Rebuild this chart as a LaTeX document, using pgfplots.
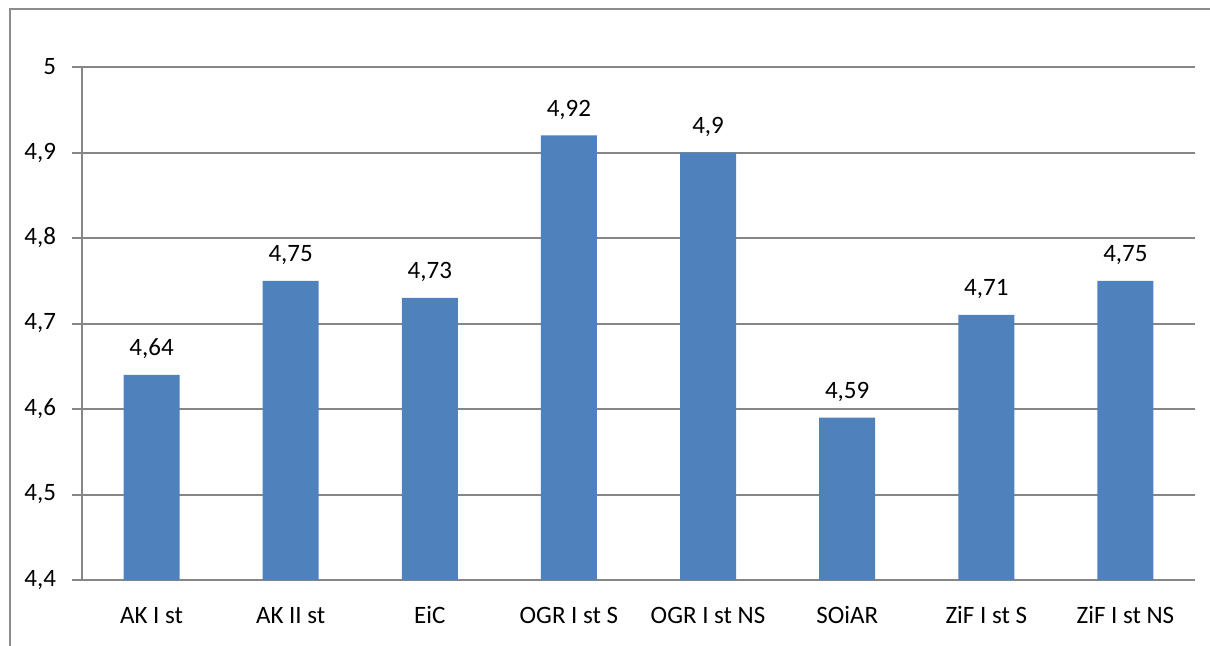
\documentclass[border=0pt]{standalone}
\usepackage{pgfplots}
\pgfplotsset{compat=1.18}
\usepackage{fontspec}
\setmainfont{Carlito}
\definecolor{barblue}{HTML}{4F81BD}
\definecolor{gridgray}{HTML}{868686}
\definecolor{framegray}{HTML}{8C8C8C}
\begin{document}
\begin{tikzpicture}[x=0.5pt,y=0.5pt]
\path[use as bounding box] (0,0) rectangle (1210,645);
\draw[framegray,line width=1.1pt] (10,-5) -- (10,636) -- (1215,636);
\begin{axis}[
  at={(41pt,32.5pt)}, anchor=south west,
  scale only axis, width=556.5pt, height=256.5pt,
  ymin=4.4, ymax=5, ytick={4.4,4.5,...,5.01},
  xmin=-0.5, xmax=7.5,
  xtick={0,...,7},
  xticklabels={AK I st, AK II st, EiC, OGR I st S, OGR I st NS, SOiAR, ZiF I st S, ZiF I st NS},
  extra x ticks={-0.5,0.5,...,7.5},
  extra x tick labels={},
  extra x tick style={major tick length=4pt, tick style={gridgray,line width=1pt}, grid=none},
  x tick style={draw=none},
  axis x line*=bottom, axis y line*=left,
  axis line style={gridgray,line width=1pt,-},
  ymajorgrids, grid style={gridgray,line width=1pt},
  y tick style={gridgray,line width=1pt},
  tick align=outside, major tick length=5pt,
  /pgf/number format/use comma,
  /pgf/number format/fixed,
  /pgf/number format/precision=2,
  /pgf/number format/assume math mode=true,
  tick label style={font=\fontsize{12.5}{14}\selectfont, text=black},
  xticklabel style={anchor=base, yshift=-16.5pt},
  yticklabel style={anchor=east, xshift=-4.5pt},
  nodes near coords,
  nodes near coords style={font=\fontsize{12.5}{14}\selectfont, text=black, anchor=base, yshift=9.5pt, inner sep=0pt},
  clip=false,
]
\addplot[ybar, bar width=28pt, fill=barblue, draw=none, bar shift=0pt] coordinates {
(0,4.64) (1,4.75) (2,4.73) (3,4.92) (4,4.9) (5,4.59) (6,4.71) (7,4.75)};
\end{axis}
\end{tikzpicture}
\end{document}
